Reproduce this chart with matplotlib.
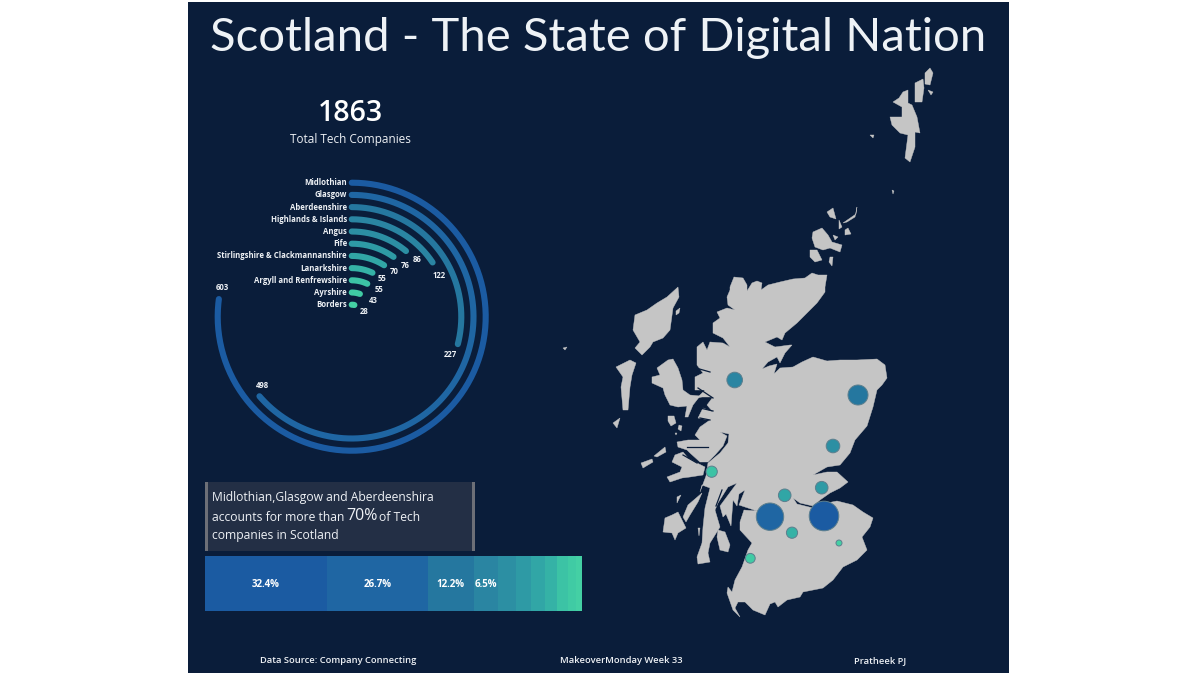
import numpy as np
import matplotlib
matplotlib.use("Agg")
import matplotlib.pyplot as plt
from matplotlib.patches import Polygon, Rectangle

# ---------- data ----------
REGIONS = ["Midlothian", "Glasgow", "Aberdeenshire", "Highlands & Islands", "Angus", "Fife",
           "Stirlingshire & Clackmannanshire", "Lanarkshire", "Argyll and Renfrewshire",
           "Ayrshire", "Borders"]
COMPANIES = [603, 498, 227, 122, 86, 76, 70, 55, 55, 43, 28]
SHARE_LABELS = ["32.4%", "26.7%", "12.2%", "6.5%"]
COLORS = ["#1b5ba2", "#1f66a3", "#25779f", "#2a85a2", "#2c8fa3", "#2e9aa5",
          "#31a6a6", "#35b2a6", "#3cc3a5", "#40cba4", "#44d0a4"]
# map-projected bubble locations, one per region
MAP_X = [824, 770, 858, 734.7, 833, 821.7, 784.7, 792, 711.7, 750.3, 839]
MAP_Y = [516, 516.7, 395, 380, 446, 487.7, 495.3, 532.7, 471.7, 558.3, 543]
BUBBLE_RADII = [14.8, 13.7, 10, 7.8, 6.8, 6.3, 6.3, 5.6, 5.6, 4.9, 3.0]

MAINLAND = [(730,287),(734,277),(743,278),(747,285),(747,291),(752,283),(757,281),(762,283),(761,290),
 (768,285),(780,282),(793,279),(805,278),(812,273),(818,275),(827,275),(825,287),(825,292),(817,303),
 (807,313),(797,323),(785,333),(782,340),(777,337),(765,342),(775,347),(790,345),(792,345),(785,353),
 (780,363),(777,357),(768,362),(762,369),(769,366),(777,364),(773,377),(763,377),(771,377),(780,368),
 (793,367),(802,362),(813,357),(827,361),(840,360),(857,360),(877,359),(885,365),(887,378),(882,385),
 (877,390),(873,407),(867,426),(855,440),(850,453),(840,465),(827,467),(813,475),(827,472),(837,472),
 (848,482),(840,488),(830,493),(820,500),(813,506),(800,503),(793,498),(797,504),(813,508),(827,503),
 (837,501),(853,505),(863,512),(873,518),(870,527),(862,537),(867,550),(857,560),(843,567),(833,580),
 (823,588),(803,592),(800,597),(787,600),(778,607),(775,602),(770,604),(765,615),(753,610),(745,602),
 (738,602),(735,608),(740,617),(733,610),(727,593),(728,587),(732,592),(735,580),(742,567),(748,550),
 (752,543),(740,530),(740,522),(744,510),(757,511),(745,507),(739,505),(745,490),(739,494),(737,506),
 (733,500),(731,526),(726,514),(723,517),(720,506),(737,483),(728,487),(718,503),(715,510),(720,527),
 (710,543),(708,553),(710,562),(698,564),(697,557),(702,543),(703,527),(705,508),(710,488),(702,485),
 (700,492),(706,476),(708,463),(720,453),(728,443),(729,434),(720,432),(727,436),(723,446),(715,455),
 (708,462),(700,462),(690,453),(687,450),(678,447),(677,442),(688,440),(700,440),(695,435),(700,427),
 (710,420),(698,418),(703,408),(713,412),(707,405),(713,397),(702,397),(697,398),(705,390),(695,390),
 (695,377),(703,373),(697,365),(697,347),(703,342),(707,350),(710,342),(723,343),(730,347),(723,338),
 (713,333),(713,323),(720,318),(717,312),(727,308),(735,310),(728,305),(727,297),(730,290)]
ISLANDS = [
 # Skye
 [(657,368),(668,360),(673,359),(678,368),(682,380),(683,390),(690,395),(700,396),(693,405),(688,417),
  (685,417),(687,406),(678,407),(670,405),(665,395),(663,388),(652,383),(652,377),(660,375)],
 # Lewis & Harris
 [(678,287),(679,297),(673,308),(670,330),(663,338),(653,342),(650,347),(642,355),(635,348),(640,342),
  (633,330),(635,315),(647,310),(657,303),(667,297)],
 # Uists, Barra
 [(616,367),(630,360),(636,363),(632,375),(630,387),(628,410),(623,410),(621,387),(623,377)],
 [(613,423),(620,418),(617,428)],
 # Rum, Eigg, Muck, Scalpay
 [(668,416),(674,416),(676,423),(671,426),(668,421)],
 [(679,425),(682,426),(681,431),(678,429)],
 [(675,433),(677,433),(676,435)],
 [(676,311),(680,308),(679,313),(676,315)],
 # Coll, Tiree
 [(654,456),(665,447),(666,452),(657,457)],
 [(641,463),(652,459),(653,462),(643,468)],
 # Mull
 [(675,455),(683,452),(688,458),(697,463),(705,467),(703,475),(690,477),(682,478),(670,482),(667,477),
  (680,472),(682,467),(672,462)],
 # Jura, Islay, Colonsay, Gigha, Arran
 [(702,493),(698,502),(690,515),(686,522),(683,517),(688,505)],
 [(665,518),(672,515),(678,512),(686,528),(678,533),(675,540),(672,533),(663,532)],
 [(677,497),(681,495),(677,503)],
 [(698,528),(700,528),(699,536)],
 [(718,530),(725,532),(730,545),(728,552),(720,550),(717,537)],
 # Orkney
 [(813,232),(822,228),(828,235),(832,242),(842,245),(840,252),(830,248),(823,250),(815,247),(812,238)],
 [(810,250),(817,250),(822,260),(815,262),(810,257)],
 [(830,257),(833,257),(832,266),(829,262)],
 [(827,212),(833,208),(836,219),(830,217)],
 [(843,223),(856,214),(857,207),(855,217),(847,222)],
 [(839,220),(842,227),(839,229)],
 [(845,230),(848,228),(851,234),(845,235)],
 [(833,235),(838,237),(835,240)],
 # Shetland
 [(893,102),(899,98),(903,92),(908,90),(908,103),(912,105),(917,117),(920,133),(915,132),(915,147),(910,162),
  (905,158),(908,135),(900,133),(892,125),(890,117),(902,117),(902,107)],
 [(915,83),(923,79),(924,88),(922,102),(915,102)],
 [(925,73),(930,68),(933,73),(930,85),(925,84)],
 [(928,90),(933,92),(931,95)],
 [(870,135),(874,135),(873,138)],
 [(892,190),(894,191),(893,194)],
 [(563,348),(567,347),(565,350)],
]
LOCHS = [[(696,368),(710,372)], [(698,388),(713,398)], [(700,408),(713,411)], [(700,418),(710,420)],
         [(687,447),(708,447)], [(683,455),(697,463)], [(716,506),(722,490)]]

PANEL = "#0a1d3a"
W, H = 1200, 677
fig = plt.figure(figsize=(W/100, H/100), dpi=100, facecolor="white")
plt.rcParams["font.family"] = ["Open Sans", "DejaVu Sans"]

def px_axes(x0, y0, x1, y1, **kw):
    return fig.add_axes([x0/W, 1-y1/H, (x1-x0)/W, (y1-y0)/H], **kw)

bg = fig.add_axes([0, 0, 1, 1])
bg.set_xlim(0, W); bg.set_ylim(H, 0); bg.axis("off")
bg.add_patch(Rectangle((188, 2), 821, 671, fc=PANEL, ec="none"))

# ---------- map ----------
LAND = "#c5c5c5"
bg.add_patch(Polygon(MAINLAND, closed=True, fc=LAND, ec=LAND, lw=0.3, zorder=2))
for isl in ISLANDS:
    bg.add_patch(Polygon(isl, closed=True, fc=LAND, ec=LAND, lw=0.3, zorder=2))
for l in LOCHS:
    bg.plot(*zip(*l), color=PANEL, lw=0.9, zorder=3)
sizes = [(2*r*0.72)**2 for r in BUBBLE_RADII]
bg.scatter(MAP_X, MAP_Y, s=sizes, c=COLORS, edgecolors="#5d7f8e", linewidths=0.7, zorder=4)

# ---------- radial bars ----------
CX, CY, R = 351.7, 316.7, 140
pol = px_axes(CX-R, CY-R, CX+R, CY+R, projection="polar")
pol.patch.set_alpha(0)
pol.set_theta_zero_location("N"); pol.set_theta_direction(-1)
pol.set_ylim(0, R); pol.axis("off")
DEG_PER_COMPANY = 0.4603
for i, (v, c) in enumerate(zip(COMPANIES, COLORS)):
    th = np.radians(np.linspace(0, v*DEG_PER_COMPANY, 300))
    pol.plot(th, np.full_like(th, 134-12.2*i), color=c, lw=4.4, solid_capstyle="round")

TXT = "#eef1f5"
label_y = [182.7+12.2*i for i in range(len(REGIONS))]
for name, y in zip(REGIONS, label_y):
    bg.text(347, y, name, color=TXT, fontsize=5.6, fontweight="bold", ha="right", va="center", zorder=6)
val_xy = [(222.7,287.7),(262,386),(450.7,354.3),(439.3,275),(417,259),(405.3,265.3),(394,271.3),
          (382.3,278.7),(378.7,289.3),(373,300.7),(364.3,311.7)]
for v, (x, y) in zip(COMPANIES, val_xy):
    bg.text(x, y, str(v), color=TXT, fontsize=5.6, fontweight="bold", ha="center", va="center", zorder=6)

# ---------- headers ----------
bg.text(598.5, 38, "Scotland - The State of Digital Nation", color="#eef2f6", fontsize=34,
        family=["Lato", "DejaVu Sans"], fontweight="normal", ha="center", va="center", zorder=6)
bg.text(350.5, 113.5, str(sum(COMPANIES)), color="white", fontsize=20.5, fontweight="semibold",
        ha="center", va="center", zorder=6)
bg.text(350.5, 139, "Total Tech Companies", color=TXT, fontsize=8.5, fontweight="medium",
        ha="center", va="center", zorder=6)

# ---------- callout ----------
bg.add_patch(Rectangle((205, 482), 270, 69, fc="#232f45", ec="none", zorder=3))
bg.add_patch(Rectangle((205, 482), 3, 69, fc="#6c6f77", ec="none", zorder=4))
bg.add_patch(Rectangle((472, 482), 3, 69, fc="#6c6f77", ec="none", zorder=4))
bg.text(212, 498, "Midlothian,Glasgow and Aberdeenshira", color=TXT, fontsize=8.7, fontweight="medium", va="center", zorder=6)
bg.text(212, 517.5, "accounts for more than", color=TXT, fontsize=8.7, fontweight="medium", va="center", zorder=6)
bg.text(346, 516.5, "70%", color=TXT, fontsize=11.5, fontweight="medium", va="center", zorder=6)
bg.text(379, 517.5, "of Tech", color=TXT, fontsize=8.7, fontweight="medium", va="center", zorder=6)
bg.text(212, 535.5, "companies in Scotland", color=TXT, fontsize=8.7, fontweight="medium", va="center", zorder=6)

# ---------- share bar ----------
bar = px_axes(205, 556, 582, 610.5)
bar.set_xlim(0, sum(COMPANIES)); bar.set_ylim(-0.5, 0.5); bar.axis("off")
left = 0
centers = []
for v, c in zip(COMPANIES, COLORS):
    bar.barh(0, v, left=left, height=1, color=c, linewidth=0)
    centers.append(left + v/2)
    left += v
for lab, cx in zip(SHARE_LABELS, centers):
    bar.text(cx, -0.02, lab, color="white", fontsize=7, fontweight="bold", ha="center", va="center")

# ---------- footer ----------
for x, s in [(338.5, "Data Source: Company Connecting"), (621, "MakeoverMonday Week 33"), (880, "Pratheek PJ")]:
    bg.text(x, 660.5, s, color=TXT, fontsize=6.75, fontweight="semibold", ha="center", va="center", zorder=6)

fig.savefig("out.png", dpi=100, facecolor="white")
